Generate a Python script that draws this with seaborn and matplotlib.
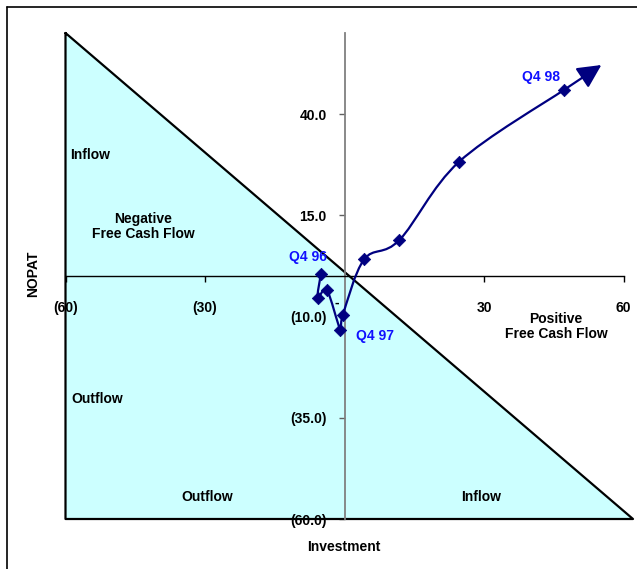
import matplotlib
matplotlib.use('Agg')
import matplotlib.pyplot as plt
import seaborn as sns
import pandas as pd
from matplotlib.path import Path
from matplotlib.patches import PathPatch
from matplotlib.lines import Line2D

# quarterly points, Q4 96 .. Q4 98
quarters = ['Q4 96', 'Q1 97', 'Q2 97', 'Q3 97', 'Q4 97', 'Q1 98', 'Q2 98', 'Q3 98', 'Q4 98']
investment = [-5.1, -5.8, -3.8, -0.9, -0.4, 4.2, 11.8, 24.6, 47.1]
nopat = [0.5, -5.5, -3.5, -13.3, -9.7, 4.1, 8.9, 28.2, 45.9]
arrow_tip = (55.2, 52.1)

x_ticks = [-60, -30, 30, 60]
x_labels = ['(60)', '(30)', '30', '60']
y_ticks = [40, 15, -10, -35, -60]
y_labels = ['40.0', '15.0', '(10.0)', '(35.0)', '(60.0)']

# shaded region corners (investment, nopat)
zone_x = [-60, -60, 62]
zone_y = [60, -60, -60]

df = pd.DataFrame({'quarter': quarters, 'investment': investment, 'nopat': nopat})

sns.set_style('white')
plt.rcParams['font.family'] = ['Liberation Sans', 'DejaVu Sans']
plt.rcParams['font.weight'] = 'bold'
plt.rcParams['text.color'] = 'black'

fig = plt.figure(figsize=(6.37, 5.69), dpi=100)
ax = fig.add_axes([65.5 / 637, 1 - 519 / 569, (633 - 65.5) / 637, (519 - 33) / 569])
ax.set_xlim(-60, 62)
ax.set_ylim(-60, 60)

# negative free cash flow triangle
ax.fill(zone_x, zone_y, color='#ccffff', zorder=0)
ax.plot(zone_x + [zone_x[0]], zone_y + [zone_y[0]], color='black', lw=1.6, zorder=1, clip_on=False)

# smoothed line through the points (catmull-rom -> bezier)
pts = list(zip(investment, nopat))
verts = [pts[0]]
codes = [Path.MOVETO]
for i in range(len(pts) - 1):
    p0 = pts[i - 1] if i > 0 else pts[i]
    p1 = pts[i]
    p2 = pts[i + 1]
    p3 = pts[i + 2] if i + 2 < len(pts) else pts[i + 1]
    c1 = (p1[0] + (p2[0] - p0[0]) / 6, p1[1] + (p2[1] - p0[1]) / 6)
    c2 = (p2[0] - (p3[0] - p1[0]) / 6, p2[1] - (p3[1] - p1[1]) / 6)
    verts += [c1, c2, p2]
    codes += [Path.CURVE4] * 3
ax.add_patch(PathPatch(Path(verts, codes), fill=False, edgecolor='#000080', lw=1.6, zorder=3))

ax.annotate('', xy=arrow_tip, xytext=pts[-1],
            arrowprops=dict(arrowstyle='-|>,head_length=0.72,head_width=0.36',
                            color='#000080', lw=1.6, shrinkA=0, shrinkB=0,
                            mutation_scale=20), zorder=3)

sns.scatterplot(data=df, x='investment', y='nopat', marker='D', s=40,
                color='#000080', edgecolor='#000080', zorder=4, ax=ax, legend=False)

# axes through the origin
for side in ['top', 'right']:
    ax.spines[side].set_visible(False)
ax.spines['left'].set_position(('data', 0))
ax.spines['bottom'].set_position(('data', 0))
ax.spines['left'].set_bounds(-60, 60)
ax.spines['bottom'].set_bounds(-60, 60)
ax.spines['left'].set_color('#808080')
ax.spines['left'].set_linewidth(1.3)
ax.spines['bottom'].set_color('black')
ax.spines['bottom'].set_linewidth(1.0)
ax.spines['left'].set_zorder(2)
ax.spines['bottom'].set_zorder(2)

ax.set_xticks(x_ticks)
ax.set_xticklabels(x_labels)
ax.set_yticks(y_ticks)
ax.set_yticklabels(y_labels)
ax.tick_params(axis='x', bottom=True, direction='out', length=4, width=1, pad=14,
               labelsize=10, color='black', labelcolor='black')
ax.tick_params(axis='y', left=True, direction='out', length=4, width=1, pad=9,
               labelsize=10, color='#606060', labelcolor='black')
for lab in ax.get_xticklabels() + ax.get_yticklabels():
    lab.set_fontweight('bold')
ax.set_xlabel('')
ax.set_ylabel('')

# zero label shown as a dash
ax.annotate('-', (0, 0), xytext=(-5.5, -19), textcoords='offset points',
            ha='center', va='center', fontsize=10, fontweight='bold')

# region captions
ax.text(-59.0, 29.9, 'Inflow', fontsize=10, fontweight='bold', ha='left', va='center')
ax.text(-43.3, 12.2, 'Negative\nFree Cash Flow', fontsize=10, fontweight='bold',
        ha='center', va='center', linespacing=1.15)
ax.text(-58.8, -30.4, 'Outflow', fontsize=10, fontweight='bold', ha='left', va='center')
ax.text(-29.6, -54.6, 'Outflow', fontsize=10, fontweight='bold', ha='center', va='center')
ax.text(29.4, -54.6, 'Inflow', fontsize=10, fontweight='bold', ha='center', va='center')
ax.text(45.5, -12.5, 'Positive\nFree Cash Flow', fontsize=10, fontweight='bold',
        ha='center', va='center', linespacing=1.15)

# quarter labels
label_offsets = {'Q4 96': (-9.4, 12.2), 'Q4 97': (23, -15), 'Q4 98': (-16.5, 9.5)}
for q, off in label_offsets.items():
    row = df[df['quarter'] == q].iloc[0]
    ax.annotate(q, (row['investment'], row['nopat']), xytext=off, textcoords='offset points',
                ha='center', va='center', fontsize=10, fontweight='bold', color='#1010ff')

fig.text(344 / 637, 1 - 547 / 569, 'Investment', fontsize=10, fontweight='bold', ha='center', va='center')
fig.text(33 / 637, 1 - 274 / 569, 'NOPAT', fontsize=10, fontweight='bold', ha='center', va='center',
         rotation=90)

# chart frame
fig.add_artist(Line2D([7 / 637, 1], [1 - 7 / 569, 1 - 7 / 569], color='black', lw=1.2))
fig.add_artist(Line2D([7 / 637, 7 / 637], [0, 1 - 7 / 569], color='black', lw=1.2))

fig.savefig('out.png', dpi=100)
